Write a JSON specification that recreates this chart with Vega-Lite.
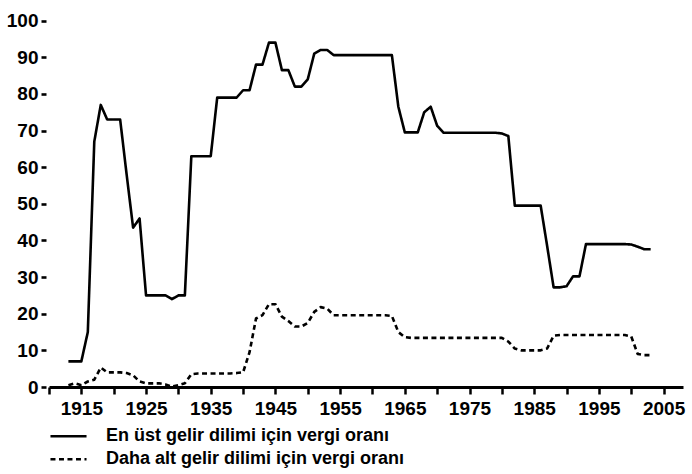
{
  "$schema": "https://vega.github.io/schema/vega-lite/v6.json",
  "autosize": {"type": "none"},
  "padding": {"left": 49, "top": 6, "right": 9, "bottom": 87},
  "width": 634,
  "height": 381,
  "background": "white",
  "config": {
    "view": {"stroke": null},
    "font": "Liberation Sans",
    "axis": {"labelFont": "Liberation Sans", "labelColor": "#000", "tickColor": "#000", "domainColor": "#000", "grid": false, "title": null}
  },
  "resolve": {"axis": {"x": "independent", "y": "independent"}},
  "datasets": {
    "rates": [
      {"year": 1913, "rate": 7, "series": "En üst gelir dilimi için vergi oranı"},
      {"year": 1914, "rate": 7, "series": "En üst gelir dilimi için vergi oranı"},
      {"year": 1915, "rate": 7, "series": "En üst gelir dilimi için vergi oranı"},
      {"year": 1916, "rate": 15, "series": "En üst gelir dilimi için vergi oranı"},
      {"year": 1917, "rate": 67, "series": "En üst gelir dilimi için vergi oranı"},
      {"year": 1918, "rate": 77, "series": "En üst gelir dilimi için vergi oranı"},
      {"year": 1919, "rate": 73, "series": "En üst gelir dilimi için vergi oranı"},
      {"year": 1920, "rate": 73, "series": "En üst gelir dilimi için vergi oranı"},
      {"year": 1921, "rate": 73, "series": "En üst gelir dilimi için vergi oranı"},
      {"year": 1922, "rate": 58, "series": "En üst gelir dilimi için vergi oranı"},
      {"year": 1923, "rate": 43.5, "series": "En üst gelir dilimi için vergi oranı"},
      {"year": 1924, "rate": 46, "series": "En üst gelir dilimi için vergi oranı"},
      {"year": 1925, "rate": 25, "series": "En üst gelir dilimi için vergi oranı"},
      {"year": 1926, "rate": 25, "series": "En üst gelir dilimi için vergi oranı"},
      {"year": 1927, "rate": 25, "series": "En üst gelir dilimi için vergi oranı"},
      {"year": 1928, "rate": 25, "series": "En üst gelir dilimi için vergi oranı"},
      {"year": 1929, "rate": 24, "series": "En üst gelir dilimi için vergi oranı"},
      {"year": 1930, "rate": 25, "series": "En üst gelir dilimi için vergi oranı"},
      {"year": 1931, "rate": 25, "series": "En üst gelir dilimi için vergi oranı"},
      {"year": 1932, "rate": 63, "series": "En üst gelir dilimi için vergi oranı"},
      {"year": 1933, "rate": 63, "series": "En üst gelir dilimi için vergi oranı"},
      {"year": 1934, "rate": 63, "series": "En üst gelir dilimi için vergi oranı"},
      {"year": 1935, "rate": 63, "series": "En üst gelir dilimi için vergi oranı"},
      {"year": 1936, "rate": 79, "series": "En üst gelir dilimi için vergi oranı"},
      {"year": 1937, "rate": 79, "series": "En üst gelir dilimi için vergi oranı"},
      {"year": 1938, "rate": 79, "series": "En üst gelir dilimi için vergi oranı"},
      {"year": 1939, "rate": 79, "series": "En üst gelir dilimi için vergi oranı"},
      {"year": 1940, "rate": 81, "series": "En üst gelir dilimi için vergi oranı"},
      {"year": 1941, "rate": 81, "series": "En üst gelir dilimi için vergi oranı"},
      {"year": 1942, "rate": 88, "series": "En üst gelir dilimi için vergi oranı"},
      {"year": 1943, "rate": 88, "series": "En üst gelir dilimi için vergi oranı"},
      {"year": 1944, "rate": 94, "series": "En üst gelir dilimi için vergi oranı"},
      {"year": 1945, "rate": 94, "series": "En üst gelir dilimi için vergi oranı"},
      {"year": 1946, "rate": 86.5, "series": "En üst gelir dilimi için vergi oranı"},
      {"year": 1947, "rate": 86.5, "series": "En üst gelir dilimi için vergi oranı"},
      {"year": 1948, "rate": 82, "series": "En üst gelir dilimi için vergi oranı"},
      {"year": 1949, "rate": 82, "series": "En üst gelir dilimi için vergi oranı"},
      {"year": 1950, "rate": 84, "series": "En üst gelir dilimi için vergi oranı"},
      {"year": 1951, "rate": 91, "series": "En üst gelir dilimi için vergi oranı"},
      {"year": 1952, "rate": 92, "series": "En üst gelir dilimi için vergi oranı"},
      {"year": 1953, "rate": 92, "series": "En üst gelir dilimi için vergi oranı"},
      {"year": 1954, "rate": 90.6, "series": "En üst gelir dilimi için vergi oranı"},
      {"year": 1955, "rate": 90.6, "series": "En üst gelir dilimi için vergi oranı"},
      {"year": 1956, "rate": 90.6, "series": "En üst gelir dilimi için vergi oranı"},
      {"year": 1957, "rate": 90.6, "series": "En üst gelir dilimi için vergi oranı"},
      {"year": 1958, "rate": 90.6, "series": "En üst gelir dilimi için vergi oranı"},
      {"year": 1959, "rate": 90.6, "series": "En üst gelir dilimi için vergi oranı"},
      {"year": 1960, "rate": 90.6, "series": "En üst gelir dilimi için vergi oranı"},
      {"year": 1961, "rate": 90.6, "series": "En üst gelir dilimi için vergi oranı"},
      {"year": 1962, "rate": 90.6, "series": "En üst gelir dilimi için vergi oranı"},
      {"year": 1963, "rate": 90.6, "series": "En üst gelir dilimi için vergi oranı"},
      {"year": 1964, "rate": 76.5, "series": "En üst gelir dilimi için vergi oranı"},
      {"year": 1965, "rate": 69.5, "series": "En üst gelir dilimi için vergi oranı"},
      {"year": 1966, "rate": 69.5, "series": "En üst gelir dilimi için vergi oranı"},
      {"year": 1967, "rate": 69.5, "series": "En üst gelir dilimi için vergi oranı"},
      {"year": 1968, "rate": 75, "series": "En üst gelir dilimi için vergi oranı"},
      {"year": 1969, "rate": 76.5, "series": "En üst gelir dilimi için vergi oranı"},
      {"year": 1970, "rate": 71.3, "series": "En üst gelir dilimi için vergi oranı"},
      {"year": 1971, "rate": 69.4, "series": "En üst gelir dilimi için vergi oranı"},
      {"year": 1972, "rate": 69.4, "series": "En üst gelir dilimi için vergi oranı"},
      {"year": 1973, "rate": 69.4, "series": "En üst gelir dilimi için vergi oranı"},
      {"year": 1974, "rate": 69.4, "series": "En üst gelir dilimi için vergi oranı"},
      {"year": 1975, "rate": 69.4, "series": "En üst gelir dilimi için vergi oranı"},
      {"year": 1976, "rate": 69.4, "series": "En üst gelir dilimi için vergi oranı"},
      {"year": 1977, "rate": 69.4, "series": "En üst gelir dilimi için vergi oranı"},
      {"year": 1978, "rate": 69.4, "series": "En üst gelir dilimi için vergi oranı"},
      {"year": 1979, "rate": 69.4, "series": "En üst gelir dilimi için vergi oranı"},
      {"year": 1980, "rate": 69.2, "series": "En üst gelir dilimi için vergi oranı"},
      {"year": 1981, "rate": 68.5, "series": "En üst gelir dilimi için vergi oranı"},
      {"year": 1982, "rate": 49.5, "series": "En üst gelir dilimi için vergi oranı"},
      {"year": 1983, "rate": 49.5, "series": "En üst gelir dilimi için vergi oranı"},
      {"year": 1984, "rate": 49.5, "series": "En üst gelir dilimi için vergi oranı"},
      {"year": 1985, "rate": 49.5, "series": "En üst gelir dilimi için vergi oranı"},
      {"year": 1986, "rate": 49.5, "series": "En üst gelir dilimi için vergi oranı"},
      {"year": 1987, "rate": 38.5, "series": "En üst gelir dilimi için vergi oranı"},
      {"year": 1988, "rate": 27.2, "series": "En üst gelir dilimi için vergi oranı"},
      {"year": 1989, "rate": 27.2, "series": "En üst gelir dilimi için vergi oranı"},
      {"year": 1990, "rate": 27.5, "series": "En üst gelir dilimi için vergi oranı"},
      {"year": 1991, "rate": 30.2, "series": "En üst gelir dilimi için vergi oranı"},
      {"year": 1992, "rate": 30.2, "series": "En üst gelir dilimi için vergi oranı"},
      {"year": 1993, "rate": 39, "series": "En üst gelir dilimi için vergi oranı"},
      {"year": 1994, "rate": 39, "series": "En üst gelir dilimi için vergi oranı"},
      {"year": 1995, "rate": 39, "series": "En üst gelir dilimi için vergi oranı"},
      {"year": 1996, "rate": 39, "series": "En üst gelir dilimi için vergi oranı"},
      {"year": 1997, "rate": 39, "series": "En üst gelir dilimi için vergi oranı"},
      {"year": 1998, "rate": 39, "series": "En üst gelir dilimi için vergi oranı"},
      {"year": 1999, "rate": 39, "series": "En üst gelir dilimi için vergi oranı"},
      {"year": 2000, "rate": 38.9, "series": "En üst gelir dilimi için vergi oranı"},
      {"year": 2001, "rate": 38.3, "series": "En üst gelir dilimi için vergi oranı"},
      {"year": 2002, "rate": 37.6, "series": "En üst gelir dilimi için vergi oranı"},
      {"year": 2003, "rate": 37.6, "series": "En üst gelir dilimi için vergi oranı"},
      {"year": 1913, "rate": 0.5, "series": "Daha alt gelir dilimi için vergi oranı"},
      {"year": 1914, "rate": 1, "series": "Daha alt gelir dilimi için vergi oranı"},
      {"year": 1915, "rate": 0.5, "series": "Daha alt gelir dilimi için vergi oranı"},
      {"year": 1916, "rate": 1.5, "series": "Daha alt gelir dilimi için vergi oranı"},
      {"year": 1917, "rate": 2, "series": "Daha alt gelir dilimi için vergi oranı"},
      {"year": 1918, "rate": 5.3, "series": "Daha alt gelir dilimi için vergi oranı"},
      {"year": 1919, "rate": 4, "series": "Daha alt gelir dilimi için vergi oranı"},
      {"year": 1920, "rate": 4, "series": "Daha alt gelir dilimi için vergi oranı"},
      {"year": 1921, "rate": 4, "series": "Daha alt gelir dilimi için vergi oranı"},
      {"year": 1922, "rate": 3.8, "series": "Daha alt gelir dilimi için vergi oranı"},
      {"year": 1923, "rate": 3.2, "series": "Daha alt gelir dilimi için vergi oranı"},
      {"year": 1924, "rate": 1.5, "series": "Daha alt gelir dilimi için vergi oranı"},
      {"year": 1925, "rate": 1, "series": "Daha alt gelir dilimi için vergi oranı"},
      {"year": 1926, "rate": 1, "series": "Daha alt gelir dilimi için vergi oranı"},
      {"year": 1927, "rate": 1, "series": "Daha alt gelir dilimi için vergi oranı"},
      {"year": 1928, "rate": 0.7, "series": "Daha alt gelir dilimi için vergi oranı"},
      {"year": 1929, "rate": 0.1, "series": "Daha alt gelir dilimi için vergi oranı"},
      {"year": 1930, "rate": 0.5, "series": "Daha alt gelir dilimi için vergi oranı"},
      {"year": 1931, "rate": 1, "series": "Daha alt gelir dilimi için vergi oranı"},
      {"year": 1932, "rate": 3.5, "series": "Daha alt gelir dilimi için vergi oranı"},
      {"year": 1933, "rate": 3.7, "series": "Daha alt gelir dilimi için vergi oranı"},
      {"year": 1934, "rate": 3.7, "series": "Daha alt gelir dilimi için vergi oranı"},
      {"year": 1935, "rate": 3.7, "series": "Daha alt gelir dilimi için vergi oranı"},
      {"year": 1936, "rate": 3.7, "series": "Daha alt gelir dilimi için vergi oranı"},
      {"year": 1937, "rate": 3.7, "series": "Daha alt gelir dilimi için vergi oranı"},
      {"year": 1938, "rate": 3.7, "series": "Daha alt gelir dilimi için vergi oranı"},
      {"year": 1939, "rate": 3.8, "series": "Daha alt gelir dilimi için vergi oranı"},
      {"year": 1940, "rate": 4, "series": "Daha alt gelir dilimi için vergi oranı"},
      {"year": 1941, "rate": 9.5, "series": "Daha alt gelir dilimi için vergi oranı"},
      {"year": 1942, "rate": 18.7, "series": "Daha alt gelir dilimi için vergi oranı"},
      {"year": 1943, "rate": 19.6, "series": "Daha alt gelir dilimi için vergi oranı"},
      {"year": 1944, "rate": 22.6, "series": "Daha alt gelir dilimi için vergi oranı"},
      {"year": 1945, "rate": 22.6, "series": "Daha alt gelir dilimi için vergi oranı"},
      {"year": 1946, "rate": 19.2, "series": "Daha alt gelir dilimi için vergi oranı"},
      {"year": 1947, "rate": 18, "series": "Daha alt gelir dilimi için vergi oranı"},
      {"year": 1948, "rate": 16.5, "series": "Daha alt gelir dilimi için vergi oranı"},
      {"year": 1949, "rate": 16.5, "series": "Daha alt gelir dilimi için vergi oranı"},
      {"year": 1950, "rate": 17.5, "series": "Daha alt gelir dilimi için vergi oranı"},
      {"year": 1951, "rate": 20.5, "series": "Daha alt gelir dilimi için vergi oranı"},
      {"year": 1952, "rate": 21.8, "series": "Daha alt gelir dilimi için vergi oranı"},
      {"year": 1953, "rate": 21.4, "series": "Daha alt gelir dilimi için vergi oranı"},
      {"year": 1954, "rate": 19.6, "series": "Daha alt gelir dilimi için vergi oranı"},
      {"year": 1955, "rate": 19.6, "series": "Daha alt gelir dilimi için vergi oranı"},
      {"year": 1956, "rate": 19.6, "series": "Daha alt gelir dilimi için vergi oranı"},
      {"year": 1957, "rate": 19.6, "series": "Daha alt gelir dilimi için vergi oranı"},
      {"year": 1958, "rate": 19.6, "series": "Daha alt gelir dilimi için vergi oranı"},
      {"year": 1959, "rate": 19.6, "series": "Daha alt gelir dilimi için vergi oranı"},
      {"year": 1960, "rate": 19.6, "series": "Daha alt gelir dilimi için vergi oranı"},
      {"year": 1961, "rate": 19.6, "series": "Daha alt gelir dilimi için vergi oranı"},
      {"year": 1962, "rate": 19.6, "series": "Daha alt gelir dilimi için vergi oranı"},
      {"year": 1963, "rate": 19.4, "series": "Daha alt gelir dilimi için vergi oranı"},
      {"year": 1964, "rate": 15, "series": "Daha alt gelir dilimi için vergi oranı"},
      {"year": 1965, "rate": 13.6, "series": "Daha alt gelir dilimi için vergi oranı"},
      {"year": 1966, "rate": 13.4, "series": "Daha alt gelir dilimi için vergi oranı"},
      {"year": 1967, "rate": 13.4, "series": "Daha alt gelir dilimi için vergi oranı"},
      {"year": 1968, "rate": 13.4, "series": "Daha alt gelir dilimi için vergi oranı"},
      {"year": 1969, "rate": 13.4, "series": "Daha alt gelir dilimi için vergi oranı"},
      {"year": 1970, "rate": 13.4, "series": "Daha alt gelir dilimi için vergi oranı"},
      {"year": 1971, "rate": 13.4, "series": "Daha alt gelir dilimi için vergi oranı"},
      {"year": 1972, "rate": 13.4, "series": "Daha alt gelir dilimi için vergi oranı"},
      {"year": 1973, "rate": 13.4, "series": "Daha alt gelir dilimi için vergi oranı"},
      {"year": 1974, "rate": 13.4, "series": "Daha alt gelir dilimi için vergi oranı"},
      {"year": 1975, "rate": 13.4, "series": "Daha alt gelir dilimi için vergi oranı"},
      {"year": 1976, "rate": 13.4, "series": "Daha alt gelir dilimi için vergi oranı"},
      {"year": 1977, "rate": 13.4, "series": "Daha alt gelir dilimi için vergi oranı"},
      {"year": 1978, "rate": 13.4, "series": "Daha alt gelir dilimi için vergi oranı"},
      {"year": 1979, "rate": 13.4, "series": "Daha alt gelir dilimi için vergi oranı"},
      {"year": 1980, "rate": 13.4, "series": "Daha alt gelir dilimi için vergi oranı"},
      {"year": 1981, "rate": 12.4, "series": "Daha alt gelir dilimi için vergi oranı"},
      {"year": 1982, "rate": 10.5, "series": "Daha alt gelir dilimi için vergi oranı"},
      {"year": 1983, "rate": 10, "series": "Daha alt gelir dilimi için vergi oranı"},
      {"year": 1984, "rate": 10, "series": "Daha alt gelir dilimi için vergi oranı"},
      {"year": 1985, "rate": 10, "series": "Daha alt gelir dilimi için vergi oranı"},
      {"year": 1986, "rate": 10, "series": "Daha alt gelir dilimi için vergi oranı"},
      {"year": 1987, "rate": 10.5, "series": "Daha alt gelir dilimi için vergi oranı"},
      {"year": 1988, "rate": 14, "series": "Daha alt gelir dilimi için vergi oranı"},
      {"year": 1989, "rate": 14.2, "series": "Daha alt gelir dilimi için vergi oranı"},
      {"year": 1990, "rate": 14.2, "series": "Daha alt gelir dilimi için vergi oranı"},
      {"year": 1991, "rate": 14.2, "series": "Daha alt gelir dilimi için vergi oranı"},
      {"year": 1992, "rate": 14.2, "series": "Daha alt gelir dilimi için vergi oranı"},
      {"year": 1993, "rate": 14.2, "series": "Daha alt gelir dilimi için vergi oranı"},
      {"year": 1994, "rate": 14.2, "series": "Daha alt gelir dilimi için vergi oranı"},
      {"year": 1995, "rate": 14.2, "series": "Daha alt gelir dilimi için vergi oranı"},
      {"year": 1996, "rate": 14.2, "series": "Daha alt gelir dilimi için vergi oranı"},
      {"year": 1997, "rate": 14.2, "series": "Daha alt gelir dilimi için vergi oranı"},
      {"year": 1998, "rate": 14.2, "series": "Daha alt gelir dilimi için vergi oranı"},
      {"year": 1999, "rate": 14.2, "series": "Daha alt gelir dilimi için vergi oranı"},
      {"year": 2000, "rate": 13.8, "series": "Daha alt gelir dilimi için vergi oranı"},
      {"year": 2001, "rate": 9, "series": "Daha alt gelir dilimi için vergi oranı"},
      {"year": 2002, "rate": 8.7, "series": "Daha alt gelir dilimi için vergi oranı"},
      {"year": 2003, "rate": 8.7, "series": "Daha alt gelir dilimi için vergi oranı"}
    ]
  },
  "layer": [
    {
      "data": {"name": "rates"},
      "mark": {"type": "line", "color": "#000", "strokeWidth": 2.6, "strokeJoin": "round", "strokeCap": "butt"},
      "encoding": {
        "x": {
          "field": "year", "type": "quantitative",
          "scale": {"domain": [1910, 2008], "nice": false, "zero": false},
          "axis": {
            "values": [1910, 1915, 1920, 1925, 1930, 1935, 1940, 1945, 1950, 1955, 1960, 1965, 1970, 1975, 1980, 1985, 1990, 1995, 2000, 2005],
            "format": "d",
            "labelExpr": "datum.value % 10 == 5 ? datum.label : ''",
            "domainWidth": 3,
            "tickSize": 7,
            "tickWidth": 2.5,
            "labelFontSize": 19,
            "labelFontWeight": "bold",
            "labelPadding": 5,
            "labelFlush": false,
            "labelOverlap": false
          }
        },
        "y": {
          "field": "rate", "type": "quantitative",
          "scale": {"domain": [0, 104], "nice": false},
          "axis": {
            "values": [0, 10, 20, 30, 40, 50, 60, 70, 80, 90, 100],
            "domain": false,
            "offset": 3,
            "tickSize": 5,
            "tickWidth": 2.6,
            "labelFontSize": 19,
            "labelFontWeight": "bold",
            "labelPadding": 3,
            "labelOverlap": false
          }
        },
        "strokeDash": {
          "field": "series", "type": "nominal",
          "scale": {
            "domain": ["En üst gelir dilimi için vergi oranı", "Daha alt gelir dilimi için vergi oranı"],
            "range": [[1, 0], [5, 3.5]]
          },
          "legend": {
            "title": null,
            "orient": "none",
            "legendX": 0,
            "legendY": 419,
            "padding": 0,
            "symbolType": "stroke",
            "symbolSize": 1300,
            "symbolStrokeWidth": 2.6,
            "symbolStrokeColor": "#000",
            "clipHeight": 22.6,
            "labelFont": "Liberation Sans",
            "labelFontSize": 18,
            "labelFontWeight": "bold",
            "labelColor": "#000",
            "labelOffset": 18,
            "labelLimit": 500,
            "rowPadding": 0
          }
        }
      }
    },
    {
      "mark": {"type": "rule", "color": "#000", "strokeWidth": 2.7},
      "encoding": {
        "x": {"datum": 1910, "type": "quantitative", "axis": null},
        "y": {"datum": 0, "type": "quantitative", "axis": null},
        "y2": {"datum": 104}
      }
    }
  ]
}
